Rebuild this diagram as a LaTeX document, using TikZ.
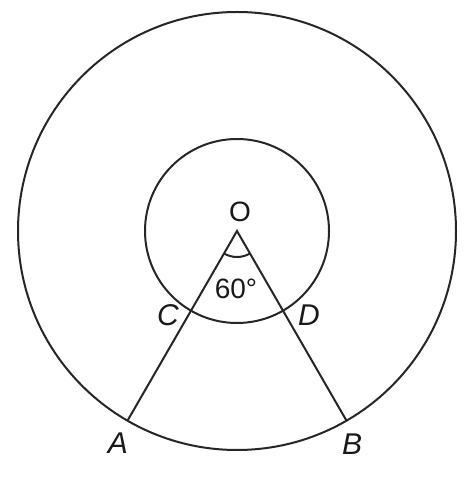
\documentclass[tikz,border=0pt]{standalone}
\usepackage{fontspec}
\setmainfont{Liberation Sans}
\usetikzlibrary{calc}
\begin{document}
\begin{tikzpicture}[x=1pt,y=1pt,
  ln/.style={line width=2pt,draw=black!85},
  lbl/.style={font=\fontsize{30}{30}\selectfont\itshape,text=black!90,inner sep=0pt},
  lblup/.style={font=\fontsize{28}{28}\selectfont,text=black!90,inner sep=0pt}]
\useasboundingbox (0,0) rectangle (474,489);
\coordinate (O) at (237,258);
\coordinate (A) at ($(O)+(240:219)$);
\coordinate (B) at ($(O)+(300:219)$);
\coordinate (C) at ($(O)+(240:92)$);
\coordinate (D) at ($(O)+(300:92)$);
\draw[ln] (O) circle[radius=219];
\draw[ln] (O) circle[radius=92];
\draw[ln] (A) -- (O) -- (B);
\draw[ln] ($(O)+(240:26)$) arc[start angle=240,end angle=300,radius=26];
\node[lblup] (lO) at (240,277) {O};
\node[lblup] (l60) at (236,200) {60°};
\node[lbl] (lC) at (168,174) {C};
\node[lbl] (lD) at (309,174) {D};
\node[lbl] (lA) at (118,46) {A};
\node[lbl] (lB) at (352,45) {B};
\end{tikzpicture}
\end{document}
